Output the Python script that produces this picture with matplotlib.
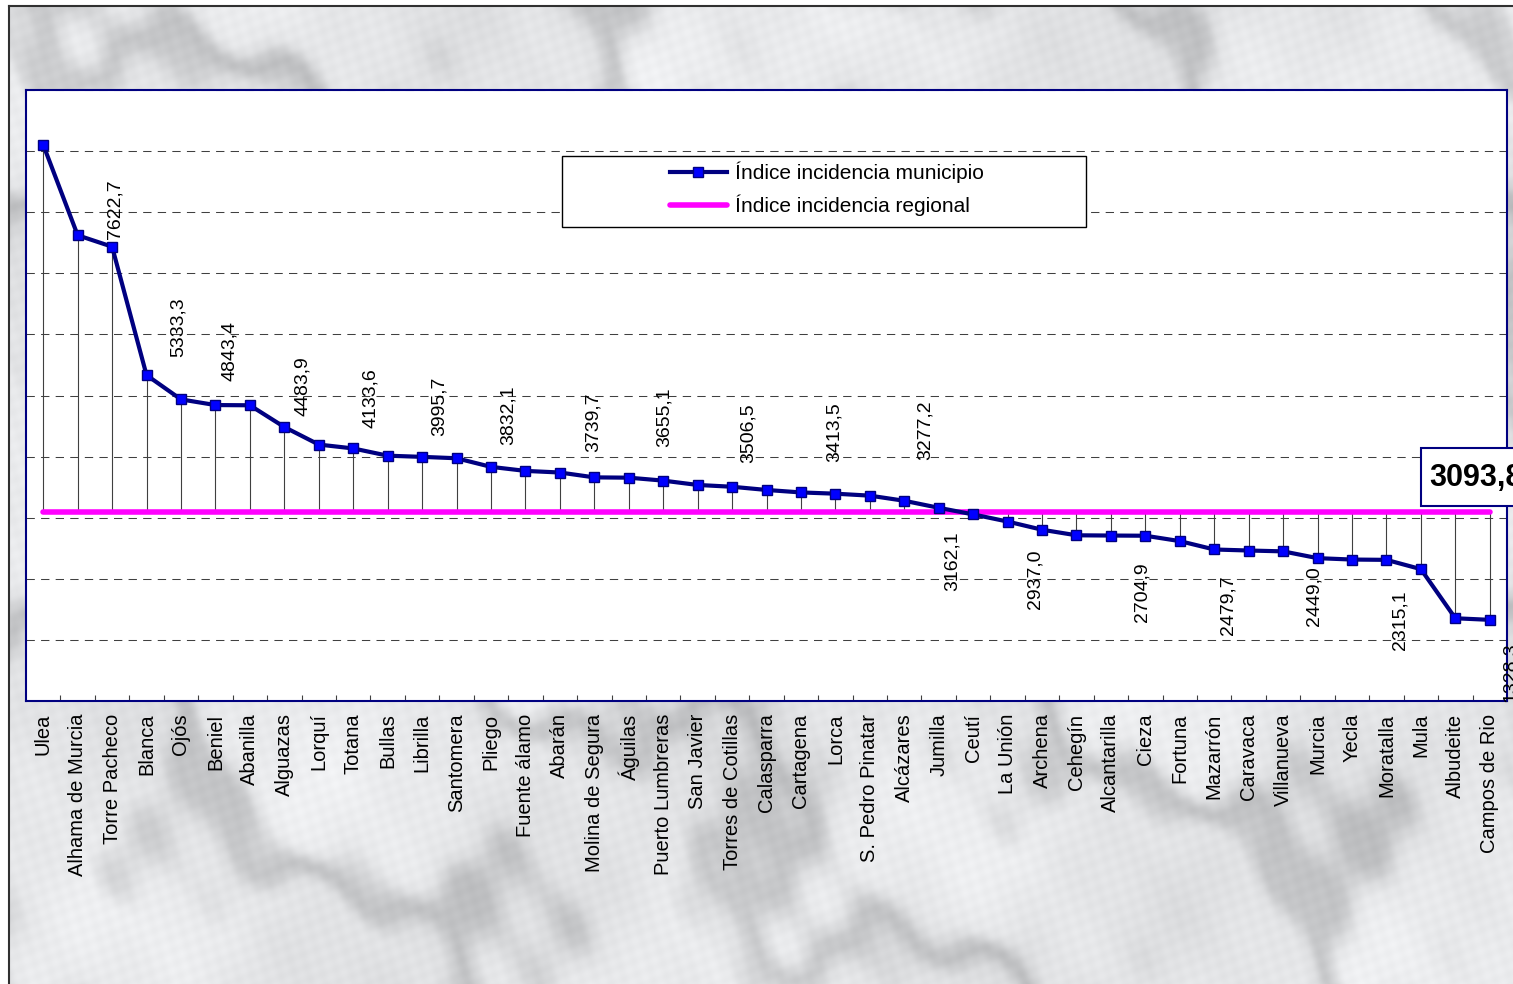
import numpy as np
import matplotlib
matplotlib.use("Agg")
import matplotlib.pyplot as plt
from matplotlib.patches import Rectangle
from matplotlib.lines import Line2D

# ---------------- data ----------------
municipios = ["Ulea", "Alhama de Murcia", "Torre Pacheco", "Blanca", "Ojós", "Beniel",
              "Abanilla", "Alguazas", "Lorquí", "Totana", "Bullas", "Librilla", "Santomera",
              "Pliego", "Fuente álamo", "Abarán", "Molina de Segura", "Águilas",
              "Puerto Lumbreras", "San Javier", "Torres de Cotillas", "Calasparra",
              "Cartagena", "Lorca", "S. Pedro Pinatar", "Alcázares", "Jumilla", "Ceutí",
              "La Unión", "Archena", "Cehegín", "Alcantarilla", "Cieza", "Fortuna",
              "Mazarrón", "Caravaca", "Villanueva", "Murcia", "Yecla", "Moratalla", "Mula",
              "Albudeite", "Campos de Rio"]
indice_municipio = [9104, 7622.7, 7435, 5333.3, 4936, 4843.4, 4840, 4483.9, 4197, 4133.6,
                    4015, 3995.7, 3973, 3832.1, 3766, 3739.7, 3660, 3655.1, 3607, 3536,
                    3506.5, 3454, 3413.5, 3393, 3361, 3277.2, 3162.1, 3054, 2937.0, 2803,
                    2712, 2708, 2704.9, 2617, 2479.7, 2463, 2449.0, 2338, 2315.1, 2310,
                    2158, 1354, 1328.3]
indice_regional = 3093.8
serie_municipio = "Índice incidencia municipio"
serie_regional = "Índice incidencia regional"

# which points carry a value label
label_idx = [1, 3, 5, 7, 9, 11, 13, 15, 17, 20, 22, 25, 26, 28, 32, 34, 36, 38, 42]

# ---------------- layout / style ----------------
label_x = [2.08, 3.92, 5.4, 7.54, 9.51, 11.5, 13.5, 15.97, 18.04, 20.47, 22.97, 25.6,
           26.4, 28.8, 31.9, 34.4, 36.9, 39.4, 42.6]
label_y = [7562, 5625, 5231, 4657, 4460, 4329, 4198, 4083, 4165, 3901, 3918, 3951,
           2769, 2474, 2261, 2064, 2212, 1818, 965]

plt.rcParams['font.family'] = ['Liberation Sans', 'DejaVu Sans']

W, H, DPI = 1513, 984, 100
fig = plt.figure(figsize=(W / DPI, H / DPI), dpi=DPI)

# soft marble-like deterministic background (sums of sines)
yy, xx = np.mgrid[0:H, 0:W].astype(float)
turb = (np.sin(xx * 0.009 + yy * 0.014 + 0.3)
        + 0.6 * np.sin(xx * 0.021 - yy * 0.017 + 1.7)
        + 0.35 * np.sin(xx * 0.043 + yy * 0.029 + 2.9)
        + 0.2 * np.sin(xx * 0.081 - yy * 0.063 + 4.1))
streak = np.sin((xx * 0.6 - yy * 0.8) * 0.022 + 1.3 * turb)
dark = (0.5 + 0.5 * streak) ** 6
grain = (np.sin(xx * 0.31 + yy * 0.17) * np.sin(xx * 0.13 - yy * 0.29))
g = 0.905 + 0.02 * turb - 0.14 * dark + 0.012 * grain
img = np.stack([g, g + 0.004, g + 0.012], axis=-1).clip(0, 1)
img[:5, :, :] = 1.0
img[:, :8, :] = 1.0
fig.figimage(img, 0, 0, zorder=-10)
fig.add_artist(Line2D([8.5 / W, 8.5 / W], [0, 1 - 5.5 / H], transform=fig.transFigure,
                      color='#303030', lw=1.5))
fig.add_artist(Line2D([8.5 / W, 1], [1 - 5.5 / H, 1 - 5.5 / H], transform=fig.transFigure,
                      color='#303030', lw=1.5))

ax = fig.add_axes([26 / W, 1 - 701 / H, (1507 - 26) / W, (701 - 90) / H])
ax.set_facecolor('white')
n = len(municipios)
x = np.arange(n)

ax.vlines(x, indice_regional, indice_municipio, color='#404040', lw=0.8, zorder=2)
ax.plot(x, [indice_regional] * n, color='#FF00FF', lw=4, solid_capstyle='round', zorder=3)
ax.plot(x, indice_municipio, color='#000080', lw=3, marker='s', ms=7.5,
        mfc='#0000FF', mec='#000080', mew=1, zorder=4)

ax.set_xlim(-0.5, n - 0.5)
ax.set_ylim(0, 10000)
ax.set_yticks(np.arange(0, 10001, 1000))
ax.yaxis.grid(True, color='#404040', lw=0.75, linestyle=(0, (8, 6)), zorder=1)
ax.set_axisbelow(True)
ax.tick_params(axis='y', length=0, labelleft=False)

ax.set_xticks(x)
ax.set_xticklabels(municipios, rotation=90, fontsize=14.5)
ax.set_xticks(np.arange(0.5, n - 1, 1), minor=True)
ax.tick_params(axis='x', which='major', length=0, pad=9)
ax.tick_params(axis='x', which='minor', direction='in', length=4, width=0.8, color='#404040')
for s in ax.spines.values():
    s.set_color('#000080')
    s.set_linewidth(1.5)

for i, lx, ly in zip(label_idx, label_x, label_y):
    v = indice_municipio[i]
    txt = f"{v:.1f}".replace('.', ',')
    va = 'bottom' if ly > indice_regional else 'top'
    ax.text(lx, ly, txt, rotation=90, ha='center', va=va, fontsize=14, zorder=5)

# legend
fig.add_artist(Rectangle((562 / W, 1 - 227 / H), (1086 - 562) / W, (227 - 156) / H,
                         transform=fig.transFigure, facecolor='white', edgecolor='black',
                         lw=1, zorder=6))
handles = [Line2D([], [], color='#000080', lw=3, marker='s', ms=7.5, mfc='#0000FF',
                  mec='#000080'),
           Line2D([], [], color='#FF00FF', lw=4, solid_capstyle='round')]
leg = fig.legend(handles, [serie_municipio, serie_regional], loc='center',
                 bbox_to_anchor=(827 / W, 1 - 189 / H), frameon=False, fontsize=15,
                 handlelength=2.7, handletextpad=0.4, labelspacing=0.55, borderpad=0)
leg.set_zorder(7)

# regional value box
fig.add_artist(Rectangle((1421 / W, 1 - 506 / H), 130 / W, 58 / H, transform=fig.transFigure,
                         facecolor='white', edgecolor='#000080', lw=1.5, zorder=6))
fig.text(1429 / W, 1 - 478 / H, f"{indice_regional:.1f}".replace('.', ','), ha='left',
         va='center', fontsize=22, fontweight='bold', zorder=7)

fig.savefig('out.png', dpi=DPI)
